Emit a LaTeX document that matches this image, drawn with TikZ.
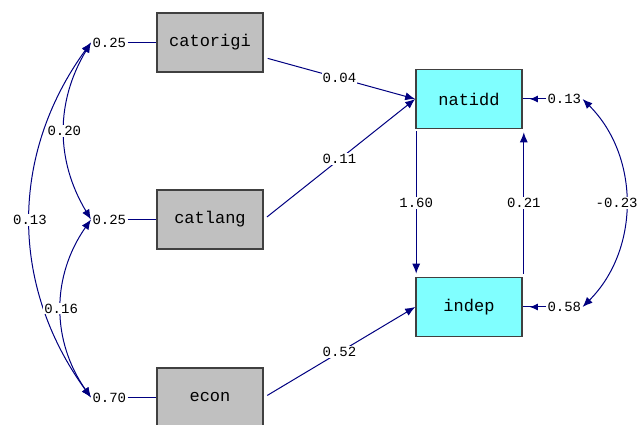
\documentclass[tikz,border=0pt]{standalone}
\usepackage{fontspec}
\setmonofont{Liberation Mono}
\usepackage{tikz}
\usetikzlibrary{arrows.meta,decorations.markings}
\definecolor{pathblue}{RGB}{0,0,128}
\definecolor{obsgray}{RGB}{192,192,192}
\definecolor{endocyan}{RGB}{128,255,255}

\begin{document}
\begin{tikzpicture}
 [x=1pt,y=1pt,line width=1pt,
  var/.style={draw=black!75,line width=1.6pt,minimum width=106pt,minimum height=59pt,
   font=\ttfamily\fontsize{17}{17}\selectfont},
  exo/.style={var,fill=obsgray},
  endo/.style={var,fill=endocyan},
  coef/.style={fill=white,inner sep=1pt,font=\ttfamily\fontsize{14}{14}\selectfont},
  arr/.style={draw=pathblue,-{Latex[length=10pt,width=8pt]}},
  cov/.style={draw=pathblue,{Latex[length=10pt,width=8pt]}-{Latex[length=10pt,width=8pt]}},
  midarr/.style={draw=pathblue,postaction={decorate,decoration={markings,
   mark=at position 0.7 with {\arrow{Latex[length=8pt,width=7pt]}}}}}]
 \useasboundingbox (0,0) rectangle (641,-425);
 \foreach \name/\y in {catorigi/-42.5,catlang/-219.5,econ/-397.5}
  \node[exo] (\name) at (210,\y) {\name};
 \foreach \name/\y in {natidd/-99,indep/-307}
  \node[endo] (\name) at (469,\y) {\name};
 % error variances
 \foreach \name/\val in {catorigi/0.25,catlang/0.25,econ/0.70}
  {\node[coef,anchor=west] (e\name) at (91,0|-\name) {\val};
   \draw[pathblue] (e\name) -- (\name);}
 \foreach \name/\val in {natidd/0.13,indep/0.58}
  {\node[coef,anchor=west] (e\name) at (546,0|-\name) {\val};
   \draw[midarr] (e\name) -- (\name);}
 % covariances
 \draw[cov] (ecatorigi.west) to[bend right=31] node[coef]{0.20} (ecatlang.west);
 \draw[cov] (ecatorigi.west) to[bend right=36] node[coef]{0.13} (eecon.west);
 \draw[cov] (ecatlang.west) to[bend right=35] node[coef]{0.16} (eecon.west);
 \draw[cov] (enatidd.east) to[bend left=45] node[coef,xshift=-9pt]{-0.23} (eindep.east);
 % paths
 \draw[arr,shorten <=4pt] (catorigi) -- node[coef]{0.04} (natidd.west);
 \draw[arr,shorten <=4pt] (catlang.east) -- node[coef]{0.11} (natidd.west);
 \draw[arr,shorten <=4pt] (econ.east) -- node[coef]{0.52} (indep.west);
 \draw[arr,shorten <=2pt,shorten >=3pt] ([xshift=1pt]natidd.south west) -- node[coef]{1.60} ([xshift=1pt]indep.north west);
 \draw[arr,shorten <=3pt,shorten >=3pt] ([xshift=1pt]indep.north east) -- node[coef]{0.21} ([xshift=1pt]natidd.south east);
\end{tikzpicture}
\end{document}
